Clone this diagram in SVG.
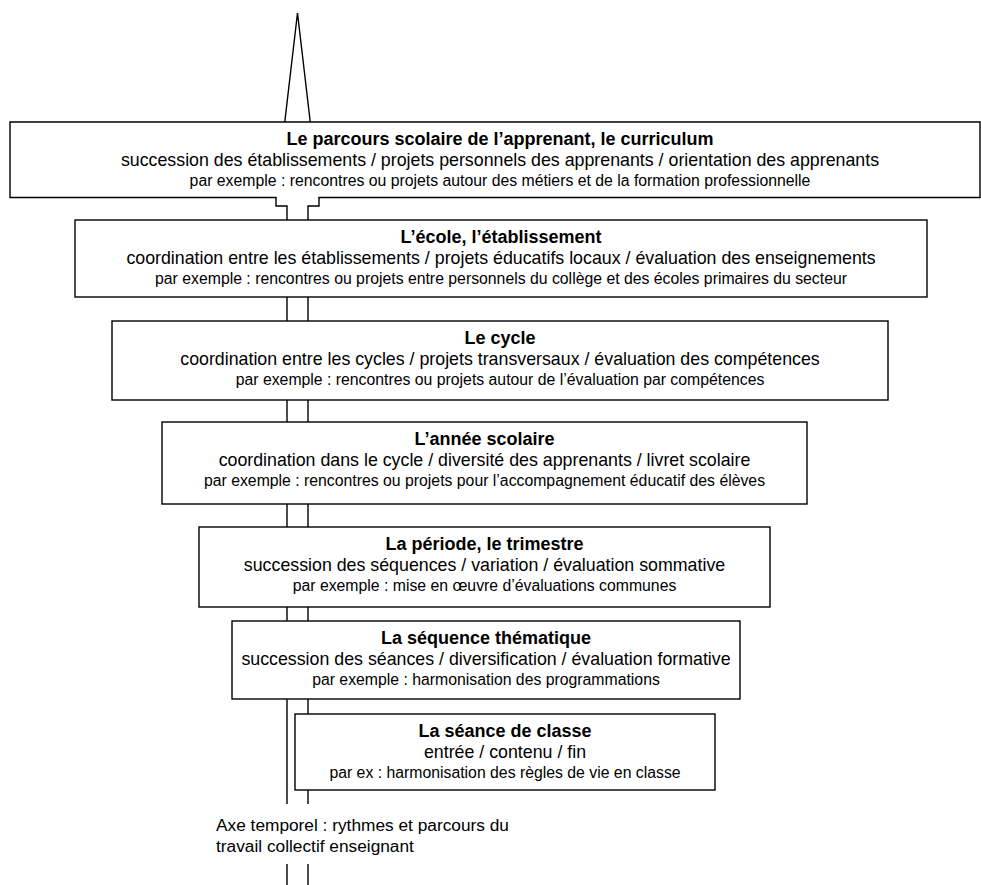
<svg xmlns="http://www.w3.org/2000/svg" width="981" height="885" viewBox="0 0 981 885">
<style>
.box{fill:#fff;stroke:#000;stroke-width:1.4}
.arrow{fill:#fff;stroke:#000;stroke-width:1.4;stroke-linejoin:miter}
text{font-family:"Liberation Sans",Arial,sans-serif;fill:#000;text-anchor:middle}
.t{font-size:18px;font-weight:bold}
.l2{font-size:17.8px}
.l3{font-size:15.8px}
.ax{font-size:17.3px;text-anchor:start}
</style>
<rect width="981" height="885" fill="#fff"/>
<g id="connectors">
<path class="arrow" d="M287,890 V206 H276 V197 L297.5,13 L319,197 V206 H308 V890"/>
</g>
<g id="n1">
<rect x="10" y="122" width="970" height="75.5" fill="#fff"/>
<path d="M276.7,197.5 H10 V122 H980 V197.5 H318.3" fill="none" stroke="#000" stroke-width="1.4"/>
<text class="t" x="500" y="145">Le parcours scolaire de l’apprenant, le curriculum</text>
<text class="l2" x="500" y="166">succession des établissements / projets personnels des apprenants / orientation des apprenants</text>
<text class="l3" x="500" y="186">par exemple : rencontres ou projets autour des métiers et de la formation professionnelle</text>
</g>
<g id="n2">
<rect class="box" x="75" y="220" width="852" height="77"/>
<text class="t" x="501" y="243">L’école, l’établissement</text>
<text class="l2" x="501" y="264">coordination entre les établissements / projets éducatifs locaux / évaluation des enseignements</text>
<text class="l3" x="501" y="284">par exemple : rencontres ou projets entre personnels du collège et des écoles primaires du secteur</text>
</g>
<g id="n3">
<rect class="box" x="112" y="321" width="776" height="79"/>
<text class="t" x="500" y="344">Le cycle</text>
<text class="l2" x="500" y="365">coordination entre les cycles / projets transversaux / évaluation des compétences</text>
<text class="l3" x="500" y="385">par exemple : rencontres ou projets autour de l’évaluation par compétences</text>
</g>
<g id="n4">
<rect class="box" x="162" y="422" width="645" height="82"/>
<text class="t" x="484.5" y="445">L’année scolaire</text>
<text class="l2" x="484.5" y="466">coordination dans le cycle / diversité des apprenants / livret scolaire</text>
<text class="l3" x="484.5" y="486">par exemple : rencontres ou projets pour l’accompagnement éducatif des élèves</text>
</g>
<g id="n5">
<rect class="box" x="199" y="527" width="571" height="80"/>
<text class="t" x="484.5" y="550">La période, le trimestre</text>
<text class="l2" x="484.5" y="571">succession des séquences / variation / évaluation sommative</text>
<text class="l3" x="484.5" y="591">par exemple : mise en œuvre d’évaluations communes</text>
</g>
<g id="n6">
<rect class="box" x="232" y="621" width="508" height="78"/>
<text class="t" x="486" y="644">La séquence thématique</text>
<text class="l2" x="486" y="665">succession des séances / diversification / évaluation formative</text>
<text class="l3" x="486" y="685">par exemple : harmonisation des programmations</text>
</g>
<g id="n7">
<rect class="box" x="295" y="714" width="420" height="76"/>
<text class="t" x="505" y="737">La séance de classe</text>
<text class="l2" x="505" y="758">entrée / contenu / fin</text>
<text class="l3" x="505" y="778">par ex : harmonisation des règles de vie en classe</text>
</g>
<g id="axis-label">
<rect x="212" y="804" width="330" height="60" fill="#fff"/>
<text class="ax" x="216" y="831">Axe temporel : rythmes et parcours du</text>
<text class="ax" x="216" y="852">travail collectif enseignant</text>
</g>
</svg>
